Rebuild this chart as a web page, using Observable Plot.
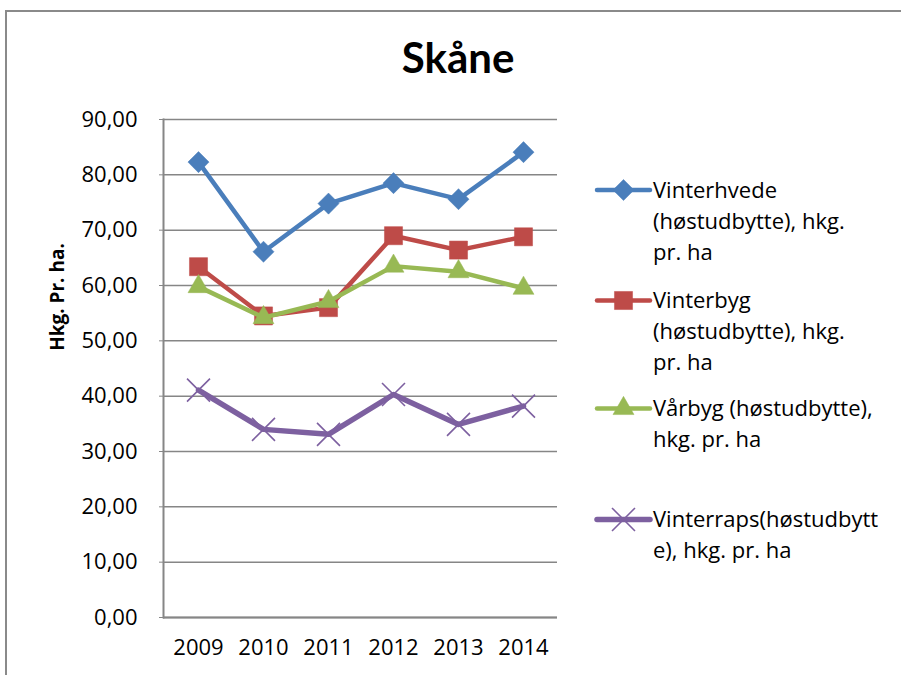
<!DOCTYPE html>
<html>
<head>
<meta charset="utf-8">
<script src="https://cdn.jsdelivr.net/npm/d3@7"></script>
<script src="https://cdn.jsdelivr.net/npm/@observablehq/plot@0.6"></script>
<style>
  html, body { margin: 0; padding: 0; background: #fff; }
  #wrap { position: relative; width: 901px; height: 675px; overflow: hidden; background: #fff; }
  #wrap > svg { position: absolute; left: 0; top: 0; }
</style>
</head>
<body>
<div id="wrap"></div>
<script>
// ---- data ----
const years = ["2009", "2010", "2011", "2012", "2013", "2014"];
const vinterhvede = [82.3, 66.1, 74.8, 78.5, 75.6, 84.1];
const vinterbyg   = [63.4, 54.5, 56.0, 69.0, 66.4, 68.8];
const vaarbyg     = [59.8, 54.2, 57.1, 63.5, 62.5, 59.5];
const vinterraps  = [41.1, 34.0, 33.1, 40.3, 34.9, 38.2];
const seriesNames = [
  "Vinterhvede (høstudbytte), hkg. pr. ha",
  "Vinterbyg (høstudbytte), hkg. pr. ha",
  "Vårbyg (høstudbytte), hkg. pr. ha",
  "Vinterraps(høstudbytte), hkg. pr. ha"
];
const legendLines = [
  ["Vinterhvede", "(høstudbytte), hkg.", "pr. ha"],
  ["Vinterbyg", "(høstudbytte), hkg.", "pr. ha"],
  ["Vårbyg (høstudbytte),", "hkg. pr. ha"],
  ["Vinterraps(høstudbytt", "e), hkg. pr. ha"]
];
const yTicks = [0, 10, 20, 30, 40, 50, 60, 70, 80, 90];
const titleText = "Skåne";
const yLabel = "Hkg. Pr. ha.";

// ---- styles ----
const colors = ["#4A7EBB", "#BE4B48", "#98B954", "#7D60A0"];
const plotSymbols = ["diamond2", "square", "triangle", "times"];
const d3Symbols = [d3.symbolDiamond2, d3.symbolSquare, d3.symbolTriangle, d3.symbolTimes];
const radii = [9.5, 10.2, 7.8, 10.5];
const lineWidths = [4.5, 4.5, 4.5, 5.5];
const gridColor = "#868686";

const allValues = [vinterhvede, vinterbyg, vaarbyg, vinterraps];
const data = allValues.flatMap((vals, i) =>
  vals.map((v, j) => ({ series: seriesNames[i], year: years[j], value: v, idx: i }))
);

const seriesMarks = seriesNames.flatMap((name, i) => {
  const rows = data.filter(d => d.series === name);
  const dotOpts = { x: "year", y: "value", symbol: plotSymbols[i], r: radii[i] };
  if (plotSymbols[i] === "times") {
    Object.assign(dotOpts, { stroke: colors[i], strokeWidth: 1.6, fill: "none" });
  } else {
    Object.assign(dotOpts, { fill: colors[i], stroke: colors[i], strokeWidth: 0.5 });
  }
  return [
    Plot.line(rows, { x: "year", y: "value", stroke: colors[i], strokeWidth: lineWidths[i], strokeLinejoin: "round" }),
    Plot.dot(rows, dotOpts)
  ];
});

const chart = Plot.plot({
  width: 901,
  height: 675,
  marginLeft: 163,
  marginRight: 344,
  marginTop: 119,
  marginBottom: 58,
  style: { fontFamily: "'Open Sans', sans-serif", fontSize: "22px", color: "#000", background: "transparent", overflow: "visible" },
  x: { type: "point", domain: years, padding: 0.5 },
  y: { domain: [0, 90] },
  marks: [
    Plot.gridY(yTicks, { stroke: gridColor, strokeOpacity: 1, strokeWidth: 1.5 }),
    Plot.ruleY([0], { stroke: gridColor, strokeWidth: 2 }),
    Plot.frame({ anchor: "left", stroke: gridColor, strokeWidth: 2 }),
    Plot.axisY(yTicks, {
      tickFormat: d => d.toFixed(2).replace(".", ","),
      tickSize: 4, tickPadding: 22, stroke: gridColor, fontSize: 22, label: null
    }),
    Plot.axisX(years, { tickSize: 0, tickPadding: 22, fontSize: 22, label: null }),
    ...seriesMarks
  ]
});
const wrap = document.getElementById("wrap");
wrap.appendChild(chart);

// ---- overlay: border, title, y label, legend ----
const svg = d3.select(wrap).append("svg")
  .attr("width", 901).attr("height", 675)
  .style("pointer-events", "none");

// outer chart border (top and left visible)
svg.append("path")
  .attr("d", "M6,700V11H905")
  .attr("fill", "none").attr("stroke", "#8a8a8a").attr("stroke-width", 2);

svg.append("text")
  .attr("x", 458).attr("y", 73)
  .attr("text-anchor", "middle")
  .attr("font-family", "Lato, sans-serif").attr("font-weight", "bold")
  .attr("font-size", 42).attr("fill", "#000")
  .text(titleText);

svg.append("text")
  .attr("transform", "translate(64,297) rotate(-90)")
  .attr("text-anchor", "middle")
  .attr("font-family", "'Open Sans', sans-serif").attr("font-weight", "bold")
  .attr("font-size", 19).attr("fill", "#000")
  .text(yLabel);

const legendBaselines = [197.5, 308, 416, 527];
const lineH = 31;
legendLines.forEach((lines, i) => {
  const by = legendBaselines[i];
  const my = by - 7.5;
  const g = svg.append("g");
  g.append("line")
    .attr("x1", 597).attr("x2", 650).attr("y1", my).attr("y2", my)
    .attr("stroke", colors[i]).attr("stroke-width", lineWidths[i]).attr("stroke-linecap", "round");
  const sym = d3.symbol().type(d3Symbols[i]).size(Math.PI * radii[i] * radii[i]);
  const p = g.append("path")
    .attr("transform", `translate(623.5,${my})`)
    .attr("d", sym());
  if (plotSymbols[i] === "times") {
    p.attr("fill", "none").attr("stroke", colors[i]).attr("stroke-width", 1.6);
  } else {
    p.attr("fill", colors[i]).attr("stroke", colors[i]).attr("stroke-width", 0.5);
  }
  const t = g.append("text")
    .attr("font-family", "'Open Sans', sans-serif").attr("font-size", 22).attr("fill", "#000");
  lines.forEach((ln, k) => {
    t.append("tspan").attr("x", 653).attr("y", by + k * lineH).text(ln);
  });
});
</script>
</body>
</html>
